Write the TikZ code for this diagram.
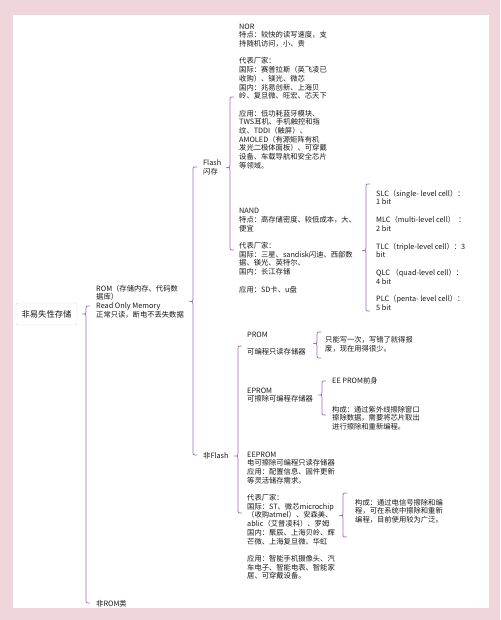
\documentclass[tikz,border=0pt]{standalone}
\usepackage{fontspec}
\newfontfamily\cjk{Noto Sans CJK SC}
\usetikzlibrary{calc}

\definecolor{bgpink}{RGB}{240,213,219}
\definecolor{brpurple}{RGB}{160,108,202}
\definecolor{inkgray}{RGB}{25,25,25}

% brace: x, top y, parent node, bottom y
\newcommand\mmbrace[4]{%
	\coordinate (bn) at (#1,0 |- #3.west);
	\draw[brace] (#1+4,#2) .. controls (#1,#2) .. (#1,#2+4)
		-- ($(bn)+(0,-3)$) .. controls (bn) .. ($(bn)+(-3.5,0)$)
		.. controls (bn) .. ($(bn)+(0,3)$)
		-- (#1,#4-4) .. controls (#1,#4) .. (#1+4,#4);
}

\begin{document}
\begin{tikzpicture}[
	x = 1pt, y = -1pt,
	txt/.style = {anchor=west, align=left, inner sep=0pt,
		text=inkgray, font=\cjk\fontsize{7.3}{8.7}\selectfont},
	root/.style = {draw=black!15, rounded corners=2pt, fill=white,
		minimum width=61pt, minimum height=22pt, inner sep=0pt,
		text=inkgray, font=\cjk\fontsize{8.3}{10}\selectfont},
	brace/.style = {draw=brpurple, line width=0.8pt, line join=round},
	]
	% page
	\fill[bgpink] (0,0) rectangle (500,620);
	\fill[white] (13,15) rectangle (489,608);

	\node[root] (root) at (46.5,314) {非易失性存储};

	% level 1
	\node[txt] (rom) at (96,301.5) {ROM（存储内存、代码数\\据库）\\Read Only Memory\\正常只读，断电不丢失数据};
	\node[txt] (nonrom) at (96,604) {非ROM类};

	% level 2
	\node[txt] (flash) at (203,167.5) {Flash\\闪存};
	\node[txt] (nonflash) at (203,456) {非Flash};

	% flash
	\node[txt] (nor) at (239,96.3) {NOR\\特点：较快的读写速度，支\\持随机访问，小、贵\\[8.7pt]
		代表厂家：\\国际：赛普拉斯（英飞凌已\\收购）、镁光、微芯\\国内：兆易创新、上海贝\\岭、复旦微、旺宏、芯天下\\[8.7pt]
		应用：低功耗蓝牙模块、\\TWS耳机、手机触控和指\\纹、TDDI（触屏）、\\AMOLED（有源矩阵有机\\发光二极体面板）、可穿戴\\设备、车载导航和安全芯片\\等领域。};
	\node[txt] (nand) at (239,250.5) {NAND\\特点：高存储密度、较低成本，大、\\便宜\\[8.7pt]
		代表厂家：\\国际：三星、sandisk闪迪、西部数\\据、镁光、英特尔、\\国内：长江存储\\[8.7pt]
		应用：SD卡、u盘};
	\foreach \nm/\txt [count=\i from 0] in {
		slc/{SLC（single- level cell）：\\1 bit},
		mlc/{MLC（multi-level cell）\ \ ：\\2 bit},
		tlc/{TLC（triple-level cell）：3\\bit},
		qlc/{QLC （quad-level cell）：\\4 bit},
		plc/{PLC（penta- level cell）：\\5 bit}}
		\node[txt] (\nm) at (376,197.5+26.4*\i) {\txt};

	% non flash
	\node[txt] (prom) at (247,343.5) {PROM\\[8.7pt]可编程只读存储器};
	\node[txt] (promnote) at (325,344.5) {只能写一次，写错了就得报\\废，现在用得很少。};
	\node[txt] (eprom) at (247,395) {EPROM\\可擦除可编程存储器};
	\node[txt] (epromold) at (332,381) {EE PROM前身};
	\node[txt] (epromnote) at (332,418) {构成：通过紫外线擦除窗口\\擦除数据，需要将芯片取出\\进行擦除和重新编程。};
	\node[txt] (eeprom) at (247,515.5) {EEPROM\\电可擦除可编程只读存储器\\应用：配置信息、固件更新\\等灵活储存需求。\\[8.7pt]
		代表厂家：\\国际：ST、微芯microchip\\（收购atmel）、安森美、\\ablic（艾普凌科）、罗姆\\国内：聚辰、上海贝岭、辉\\芒微、上海复旦微、华虹\\[8.7pt]
		应用：智能手机摄像头、汽\\车电子、智能电表、智能家\\居、可穿戴设备。};
	\node[txt] (eepromnote) at (355,511) {构成：通过电信号擦除和编\\程，可在系统中擦除和重新\\编程，目前使用较为广泛。};

	% braces
	\mmbrace{86}{306}{root}{603}
	\mmbrace{193}{167}{rom}{455}
	\mmbrace{230}{97}{flash}{250}
	\mmbrace{366}{184}{nand}{311}
	\mmbrace{238}{346}{nonflash}{513}
	\mmbrace{317}{332}{prom}{358}
	\mmbrace{322}{381}{eprom}{415}
	\mmbrace{343}{493}{eeprom}{537}
\end{tikzpicture}
\end{document}
